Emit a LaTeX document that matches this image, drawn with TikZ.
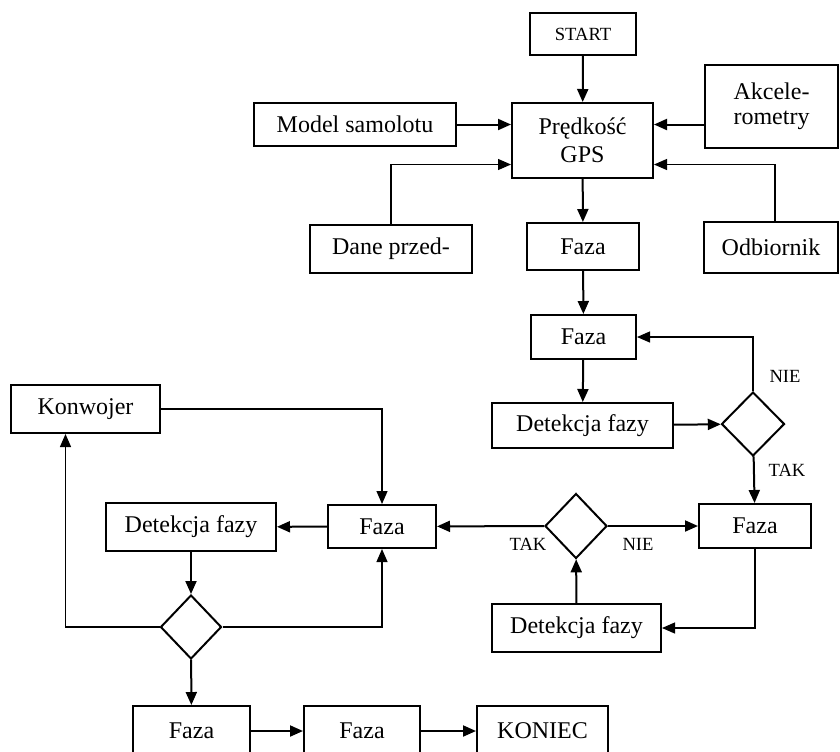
\documentclass[tikz,border=0pt]{standalone}
\usepackage{fontspec}
\setmainfont{Liberation Serif}
\usetikzlibrary{shapes.geometric, arrows.meta}

\begin{document}
\begin{tikzpicture}[
        x=0.5pt, y=-0.5pt,
        box/.style={
          rectangle,
          draw,
          line width=1pt,
          inner sep=0pt,
          align=center,
          font=\fontsize{12}{14}\selectfont
        },
        decision/.style={
          diamond,
          draw,
          line width=1pt,
          inner sep=0pt
        },
        arrow/.style={
          -{Triangle[length=6.5pt, width=5.5pt]},
          line width=1pt
        },
        link/.style={
          -{Triangle[length=6.5pt, width=5.5pt]},
          line width=0.6pt
        },
        answer/.style={
          font=\fontsize{9.3}{10}\selectfont
        }
      ]

      \useasboundingbox[fill=white] (0,0) rectangle (840,751);

      % Entities
      \node[box, font=\fontsize{9.3}{10}\selectfont, minimum width=53pt, minimum height=21pt] (start) at (583,34) {START};
      \node[box, minimum width=70.5pt, minimum height=37.5pt] (gps) at (582.5,140.5) {Prędkość\\GPS};
      \node[box, minimum width=101pt, minimum height=21.5pt] (model) at (355,124.5) {Model samolotu};
      \node[box, font=\fontsize{12}{12.5}\selectfont, minimum width=66.5pt, minimum height=41.5pt] (akcel) at (771.5,106.5) {Akcele-\\rometry};
      \node[box, minimum width=81pt, minimum height=24pt] (dane) at (391,249) {Dane przed-};
      \node[box, minimum width=56pt, minimum height=23.5pt] (faza1) at (583,246.5) {Faza};
      \node[box, minimum width=67pt, minimum height=25.5pt] (odb) at (771,247.5) {Odbiornik};

      \node[box, minimum width=52.5pt, minimum height=22pt] (faza2) at (583.5,337) {Faza};
      \node[box, minimum width=90.5pt, minimum height=22.5pt] (det1) at (582.5,425.5) {Detekcja fazy};
      \node[decision, minimum width=31.5pt, minimum height=32pt] (dec1) at (753,424) {};
      \node[box, minimum width=56pt, minimum height=22pt] (faza3) at (755,526) {Faza};
      \node[decision, minimum width=31pt, minimum height=32.5pt] (dec2) at (576,526) {};
      \node[box, minimum width=54pt, minimum height=21.5pt] (faza4) at (382,526.5) {Faza};
      \node[box, minimum width=85pt, minimum height=24pt] (det2) at (191,527) {Detekcja fazy};
      \node[box, minimum width=74.5pt, minimum height=24pt] (konw) at (85.5,409) {Konwojer};
      \node[decision, minimum width=30.5pt, minimum height=32pt] (dec3) at (191,627) {};
      \node[box, minimum width=84.5pt, minimum height=24pt] (det3) at (576.5,628) {Detekcja fazy};

      \node[box, minimum width=58.5pt, minimum height=25pt] (faza5) at (191.5,731) {Faza};
      \node[box, minimum width=58pt, minimum height=25pt] (faza6) at (362,731) {Faza};
      \node[box, minimum width=65.5pt, minimum height=25pt] (koniec) at (542.5,731) {KONIEC};

      % Answers
      \node[answer] (nie1) at (785,376) {NIE};
      \node[answer] (tak1) at (787,470) {TAK};
      \node[answer] (nie2) at (638,544) {NIE};
      \node[answer] (tak2) at (528,544) {TAK};

      % Inputs
      \draw[arrow] (start) -- (gps);
      \draw[arrow] (model.east) -- (gps.west |- model.east);
      \draw[arrow] (akcel.west |- model.east) -- (gps.east |- model.east);
      \draw[link] (dane.north) |- ([yshift=-12pt]gps.west);
      \draw[link] ([xshift=2pt]odb.north) |- ([yshift=-12pt]gps.east);

      % Phase chain
      \draw[arrow] (gps) -- (faza1);
      \draw[arrow] (faza1) -- (faza2);
      \draw[arrow] (faza2) -- (det1);
      \draw[arrow] (det1) -- (dec1);
      \draw[link] (dec1.north) |- (faza2.east);
      \draw[arrow] (dec1) -- (faza3);
      \draw[arrow] (dec2) -- (faza3);
      \draw[arrow] (dec2) -- (faza4);
      \draw[link] (faza3.south) |- (det3.east);
      \draw[arrow] (det3) -- (dec2);
      \draw[arrow] (faza4) -- (det2);
      \draw[link] (konw.east) -| (faza4.north);
      \draw[arrow] (det2) -- (dec3);
      \draw[link] (dec3.east) -| (faza4.south);
      \draw[link] (dec3.west) -| ([xshift=-10pt]konw.south);
      \draw[arrow] (dec3) -- (faza5);
      \draw[arrow] (faza5) -- (faza6);
      \draw[arrow] (faza6) -- (koniec);

    \end{tikzpicture}
\end{document}
